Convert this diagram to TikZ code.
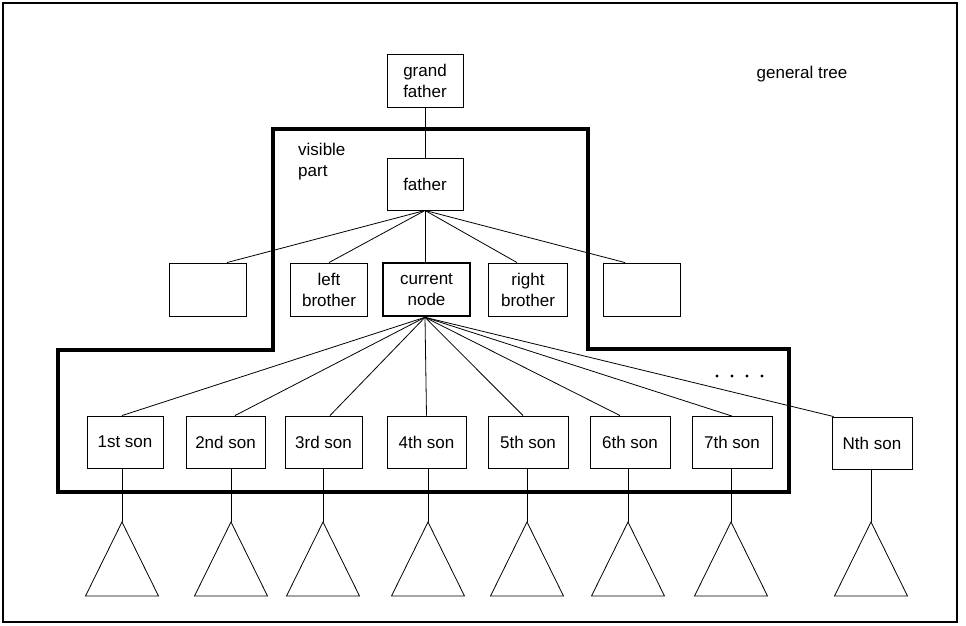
\documentclass[tikz,border=0pt]{standalone}
\usepackage{fontspec}
\setmainfont{Liberation Sans}
\begin{document}
\begin{tikzpicture}[x=1pt,y=-1pt,
  txt/.style={font=\fontsize{17}{21}\selectfont},
  box/.style={draw, line width=0.9pt, minimum height=53pt, align=center, inner sep=0pt, txt},
  sonbox/.style={box, minimum height=52pt, minimum width=79pt},
  thin/.style={line width=0.8pt},
  thick/.style={line width=3.5pt}]
\useasboundingbox (0,0) rectangle (966,625);
% outer frame
\draw[line width=1.8pt] (3,3) rectangle (957,622);
% visible part outline
\draw[thick, line join=miter] (273,129) -- (588,129) -- (588,349) -- (789,349) -- (789,492) -- (58,492) -- (58,350) -- (273,350) -- cycle;
\node[txt, anchor=north west, align=left, inner sep=0pt] (vis) at (298,143) {visible\\part};
\node[txt, inner sep=0pt] (gt) at (802,74) {general tree};
% top nodes
\node[box, minimum width=76pt] (gf) at (425,80.5) {grand\\father};
\node[box, minimum width=76pt, minimum height=52pt] (fa) at (425,184) {father};
% brothers
\node[box, minimum width=77pt] (bl) at (208,289.5) {};
\node[box, minimum width=77pt] (lb) at (329,289.5) {left\\brother};
\node[box, minimum width=87pt, line width=2.6pt] (cur) at (426.5,289.5) {current\\node};
\node[box, minimum width=79pt] (rb) at (528,289.5) {right\\brother};
\node[box, minimum width=77pt] (br) at (642,289.5) {};
% sons
\node[sonbox, minimum width=76pt] (s1) at (125,442) {1st son};
\node[sonbox] (s2) at (225.5,442) {2nd son};
\node[sonbox, minimum width=77pt] (s3) at (323.5,442) {3rd son};
\node[sonbox] (s4) at (426.5,442) {4th son};
\node[sonbox, minimum width=80pt] (s5) at (528,442) {5th son};
\node[sonbox, minimum width=80pt] (s6) at (630,442) {6th son};
\node[sonbox, minimum width=80pt] (s7) at (732,442.5) {7th son};
\node[sonbox, minimum width=80pt] (sN) at (872,443) {Nth son};
% connectors
\draw[thin] (gf.south) -- (fa.north);
\draw[thin] (fa.south) -- ([xshift=19pt]bl.north);
\draw[thin] (fa.south) -- (lb.north);
\draw[thin] (fa.south) -- (fa.south |- cur.north);
\draw[thin] (fa.south) -- ([xshift=-11pt]rb.north);
\draw[thin] (fa.south) -- ([xshift=-17pt]br.north);
\coordinate (cb) at ([xshift=-1.5pt]cur.south);
\draw[thin] (cb) -- ([xshift=-3pt]s1.north);
\draw[thin] (cb) -- ([xshift=9.5pt]s2.north);
\draw[thin] (cb) -- ([xshift=6.5pt]s3.north);
\draw[thin] (cb) -- (s4.north);
\draw[thin] (cb) -- ([xshift=-5pt]s5.north);
\draw[thin] (cb) -- ([xshift=-10pt]s6.north);
\draw[thin] (cb) -- (s7.north);
\draw[thin] (cb) -- ([xshift=2pt]sN.north west);
% dots
\foreach \x in {717,732,747,762} \fill (\x,376) circle (1.6pt);
% subtrees
\foreach \n/\a in {s1/122,s2/231,s3/323,s4/428,s5/527,s6/628,s7/731,sN/871}{
  \coordinate (apex-\n) at (\a,522);
  \coordinate (bl-\n) at (\a-36.5,596);
  \coordinate (br-\n) at (\a+36.5,596);
  \draw[thin] (apex-\n |- \n.south) -- (apex-\n);
  \draw[thin, line join=miter] (apex-\n) -- (bl-\n) -- (br-\n) -- cycle;
}
\end{tikzpicture}
\end{document}
